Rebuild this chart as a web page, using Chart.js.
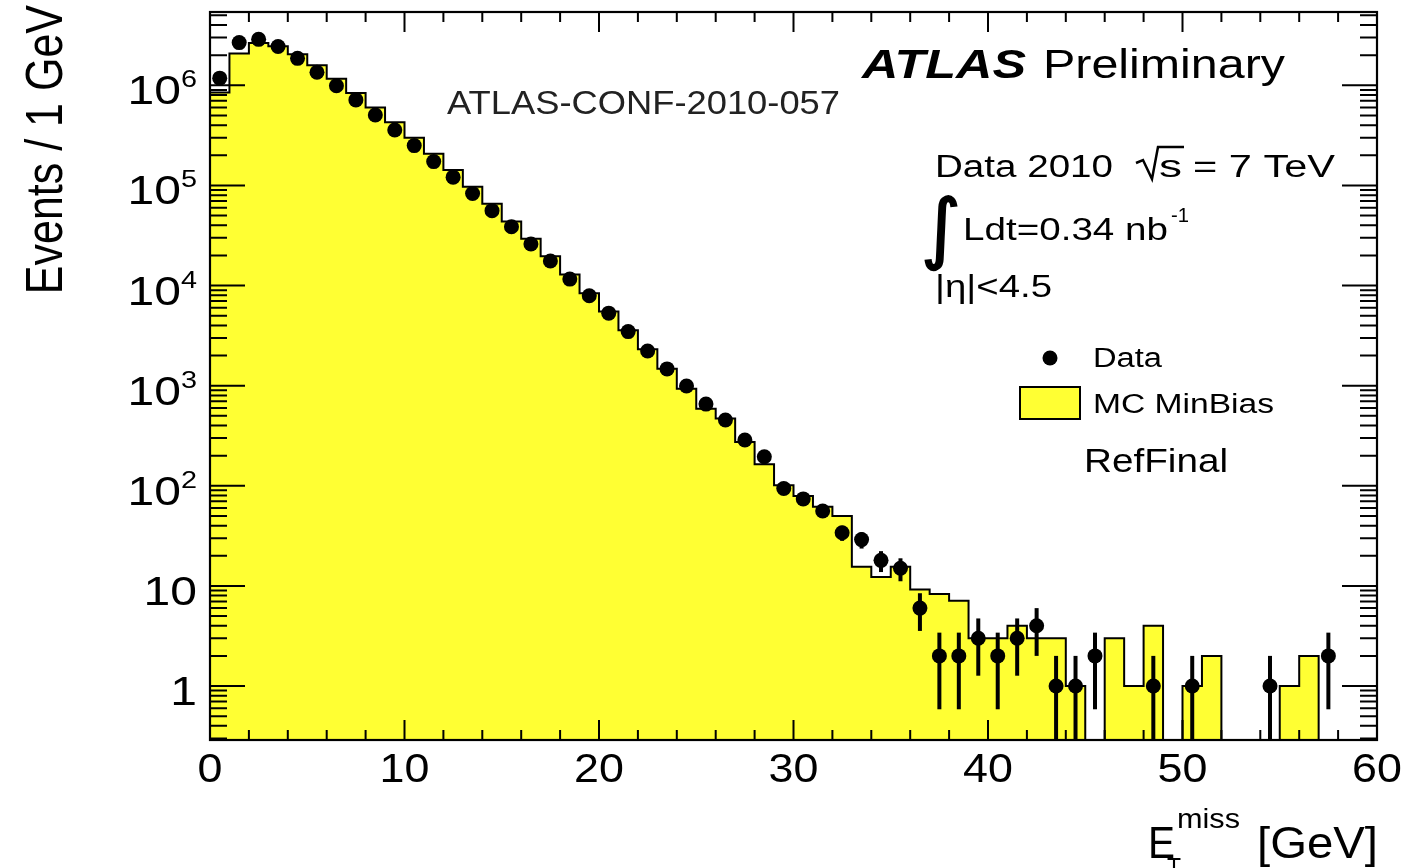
<!DOCTYPE html>
<html>
<head>
<meta charset="utf-8">
<title>Missing transverse energy, RefFinal</title>
<script src="https://cdn.jsdelivr.net/npm/chart.js@4.4.1/dist/chart.umd.min.js"></script>
<style>
    html, body { margin: 0; padding: 0; background: #fff; }
    canvas { display: block; }
</style>
</head>
<body>
<canvas id="metChart" width="1405" height="868"></canvas>
<script>
"use strict";

// E_T^miss spectrum in 1 GeV bins, 0 - 60 GeV
var BIN_WIDTH = 1;
var X_MIN = 0;
var X_MAX = 60;
var Y_MIN = 0.289;
var Y_MAX = 5.4e6;

// Events per bin, 2010 collision data
var DATA_COUNTS = [
    1.18e6, 2.67e6, 2.88e6, 2.44e6, 1.86e6, 1.35e6, 9.9e5, 7.15e5, 5.06e5, 3.58e5,
    2.5e5, 1.73e5, 1.21e5, 8.3e4, 5.6e4, 3.87e4, 2.6e4, 1.76e4, 1.16e4, 7.9e3,
    5.3e3, 3.47e3, 2.22e3, 1.47e3, 993, 655, 454, 287, 195, 94,
    74, 56, 34, 29, 18, 15, 6, 2, 2, 3,
    2, 3, 4, 1, 1, 2, 0, 0, 1, 0,
    1, 0, 0, 0, 1, 0, 0, 2, 0, 0
];

// Events per bin, MC minimum bias (normalised)
var MC_COUNTS = [
    8.5e5, 2.08e6, 2.65e6, 2.45e6, 2.04e6, 1.59e6, 1.16e6, 8.4e5, 6.0e5, 4.27e5,
    2.99e5, 2.07e5, 1.43e5, 9.7e4, 6.56e4, 4.37e4, 2.94e4, 1.96e4, 1.29e4, 8.4e3,
    5.5e3, 3.57e3, 2.31e3, 1.48e3, 934, 589, 470, 274, 164, 101,
    79, 61.6, 50, 15.5, 12.3, 15.5, 9.2, 8.3, 7.1, 3,
    3, 4, 3, 3, 1, 0, 3, 1, 4, 0,
    1, 2, 0, 0, 0, 1, 2, 0, 0, 0
];

var X_TICK_LABELS = [0, 10, 20, 30, 40, 50, 60];
var Y_TICK_EXPONENTS = [0, 1, 2, 3, 4, 5, 6];

var YELLOW = '#ffff33';
var FONT = '"Liberation Sans", Arial, Helvetica, sans-serif';

// histogram outline: one point per lower bin edge plus the closing edge,
// empty bins drop below the axis so the step runs down to the frame
var mcPoints = MC_COUNTS.map(function (v, i) {
    return { x: X_MIN + i * BIN_WIDTH, y: v > 0 ? v : Y_MIN / 10 };
});
mcPoints.push({ x: X_MAX, y: mcPoints[mcPoints.length - 1].y });

var dataPoints = [];
DATA_COUNTS.forEach(function (n, i) {
    if (n > 0) {
        dataPoints.push({ x: X_MIN + (i + 0.5) * BIN_WIDTH, y: n });
    }
});

/**
 * Draws a piece of text with its left edge (or centre / right edge) at x,
 * optionally stretched horizontally to a given width.
 */
function drawText(ctx, str, x, y, size, opt) {
    opt = opt || {};
    ctx.save();
    ctx.font = (opt.style || '') + ' ' + size + 'px ' + (opt.family || FONT);
    var w = ctx.measureText(str).width;
    var sx = opt.width ? opt.width / w : (opt.sx || 1);
    var left = x;
    if (opt.align === 'right') left = x - w * sx;
    if (opt.align === 'center') left = x - w * sx / 2;
    ctx.translate(left, y);
    ctx.scale(sx, 1);
    ctx.fillStyle = opt.color || '#000';
    ctx.textAlign = 'left';
    ctx.textBaseline = 'alphabetic';
    ctx.fillText(str, 0, 0);
    if (opt.outline) {
        ctx.strokeStyle = opt.color || '#000';
        ctx.lineWidth = opt.outline;
        ctx.strokeText(str, 0, 0);
    }
    ctx.restore();
    return left;
}

var rootStyle = {
    id: 'rootStyle',

    // Poisson error bars, then the frame with inward ticks on all four sides
    afterDatasetsDraw: function (chart) {
        var ctx = chart.ctx;
        var area = chart.chartArea;
        var xs = chart.scales.x;
        var ys = chart.scales.y;

        ctx.save();
        ctx.beginPath();
        ctx.rect(area.left, area.top, area.right - area.left, area.bottom - area.top);
        ctx.clip();
        ctx.strokeStyle = '#000';
        ctx.lineWidth = 4;
        dataPoints.forEach(function (p) {
            var err = Math.sqrt(p.y);
            var px = xs.getPixelForValue(p.x);
            var hi = ys.getPixelForValue(p.y + err);
            var lo = p.y - err > 0 ? ys.getPixelForValue(p.y - err) : area.bottom;
            ctx.beginPath();
            ctx.moveTo(px, hi);
            ctx.lineTo(px, lo);
            ctx.stroke();
        });
        ctx.restore();

        ctx.save();
        ctx.strokeStyle = '#000';
        ctx.lineWidth = 2;
        ctx.beginPath();
        for (var v = X_MIN; v <= X_MAX; v += 2) {
            var len = v % 10 === 0 ? 20 : 10;
            var px = xs.getPixelForValue(v);
            ctx.moveTo(px, area.bottom);
            ctx.lineTo(px, area.bottom - len);
            ctx.moveTo(px, area.top);
            ctx.lineTo(px, area.top + len);
        }
        for (var k = -1; k <= 6; k++) {
            for (var m = 1; m <= 9; m++) {
                var val = m * Math.pow(10, k);
                if (val < Y_MIN || val > Y_MAX) continue;
                var py = ys.getPixelForValue(val);
                var tl = m === 1 ? 35 : 17;
                ctx.moveTo(area.left, py);
                ctx.lineTo(area.left + tl, py);
                ctx.moveTo(area.right, py);
                ctx.lineTo(area.right - tl, py);
            }
        }
        ctx.stroke();
        ctx.lineWidth = 2.2;
        ctx.strokeRect(area.left, area.top, area.right - area.left, area.bottom - area.top);
        ctx.restore();
    },

    // axis labels, titles, legend and the ATLAS annotations
    afterDraw: function (chart) {
        var ctx = chart.ctx;
        var xs = chart.scales.x;
        var ys = chart.scales.y;

        X_TICK_LABELS.forEach(function (v) {
            drawText(ctx, String(v), xs.getPixelForValue(v), 782, 40, { sx: 1.12, align: 'center' });
        });

        Y_TICK_EXPONENTS.forEach(function (k) {
            var y = ys.getPixelForValue(Math.pow(10, k));
            if (k < 2) {
                drawText(ctx, k === 0 ? '1' : '10', 197, y + 19, 40, { sx: 1.2, align: 'right' });
            } else {
                var left = drawText(ctx, String(k), 197, y + 2, 24, { sx: 1.2, align: 'right' });
                drawText(ctx, '10', left, y + 19, 40, { sx: 1.2, align: 'right' });
            }
        });

        // y title, rotated and reading upwards
        ctx.save();
        ctx.font = '43px ' + FONT;
        ctx.fillStyle = '#000';
        ctx.translate(62, 5);
        ctx.scale(1.2, 1);
        ctx.rotate(-Math.PI / 2);
        ctx.textAlign = 'right';
        ctx.textBaseline = 'alphabetic';
        ctx.fillText('Events / 1 GeV', 0, 0);
        ctx.restore();

        // x title: E_T^miss [GeV]
        drawText(ctx, 'E', 1148, 858, 44, { width: 27 });
        drawText(ctx, 'T', 1167, 876, 26, { width: 14 });
        drawText(ctx, 'miss', 1177, 828, 27, { width: 63 });
        drawText(ctx, '[GeV]', 1378, 858, 44, { width: 121, align: 'right' });

        drawText(ctx, 'ATLAS', 862, 78, 41, { style: 'italic bold', width: 164 });
        drawText(ctx, 'Preliminary', 1043, 78, 40, { width: 242 });
        drawText(ctx, 'ATLAS-CONF-2010-057', 447, 114, 33, { width: 393, color: '#222' });

        drawText(ctx, 'Data 2010', 935, 177, 31, { width: 178 });
        ctx.save();
        ctx.strokeStyle = '#000';
        ctx.lineWidth = 2.5;
        ctx.lineJoin = 'miter';
        ctx.beginPath();
        ctx.moveTo(1136, 163);
        ctx.lineTo(1143, 160);
        ctx.lineTo(1152, 179);
        ctx.lineTo(1158, 147);
        ctx.lineTo(1184, 147);
        ctx.stroke();
        ctx.restore();
        drawText(ctx, 's', 1159, 177, 31, { width: 23 });
        drawText(ctx, '= 7 TeV', 1193, 177, 31, { width: 142 });

        drawText(ctx, '\u222B', 921, 254, 77, { family: '"DejaVu Sans", sans-serif', width: 40, outline: 1.6 });
        drawText(ctx, 'Ldt=0.34 nb', 963, 240, 31, { width: 205 });
        drawText(ctx, '-1', 1171, 222, 20, { width: 18 });
        drawText(ctx, '|\u03B7|<4.5', 935, 297, 31, { width: 117 });

        // legend
        ctx.save();
        ctx.fillStyle = '#000';
        ctx.beginPath();
        ctx.arc(1050, 358, 7.5, 0, Math.PI * 2);
        ctx.fill();
        ctx.fillStyle = YELLOW;
        ctx.fillRect(1020, 387, 60, 32);
        ctx.lineWidth = 2;
        ctx.strokeStyle = '#000';
        ctx.strokeRect(1020, 387, 60, 32);
        ctx.restore();
        drawText(ctx, 'Data', 1093, 367, 27, { width: 69 });
        drawText(ctx, 'MC MinBias', 1093, 413, 27, { width: 181 });
        drawText(ctx, 'RefFinal', 1084, 472, 33, { width: 144 });

        // top of the next panel's axis label, cut by the page edge
        drawText(ctx, '10', 203, 897, 40, { width: 46 });
    }
};

var ctx = document.getElementById('metChart').getContext('2d');
var metChart = new Chart(ctx, {
    type: 'line',
    data: {
        datasets: [
            {
                label: 'Data',
                type: 'scatter',
                data: dataPoints,
                pointRadius: 7.5,
                pointHoverRadius: 7.5,
                pointBackgroundColor: '#000',
                pointBorderColor: '#000',
                pointBorderWidth: 0,
                showLine: false,
                order: 0
            },
            {
                label: 'MC MinBias',
                data: mcPoints,
                stepped: 'before',
                borderColor: '#000',
                borderWidth: 2,
                backgroundColor: YELLOW,
                fill: 'start',
                pointRadius: 0,
                order: 1
            }
        ]
    },
    options: {
        responsive: false,
        animation: false,
        devicePixelRatio: 1,
        layout: {
            padding: { left: 210, right: 28, top: 12, bottom: 128 }
        },
        plugins: {
            legend: { display: false },
            tooltip: { enabled: false }
        },
        scales: {
            x: { type: 'linear', min: X_MIN, max: X_MAX, display: false },
            y: { type: 'logarithmic', min: Y_MIN, max: Y_MAX, display: false }
        }
    },
    plugins: [rootStyle]
});
</script>
</body>
</html>
